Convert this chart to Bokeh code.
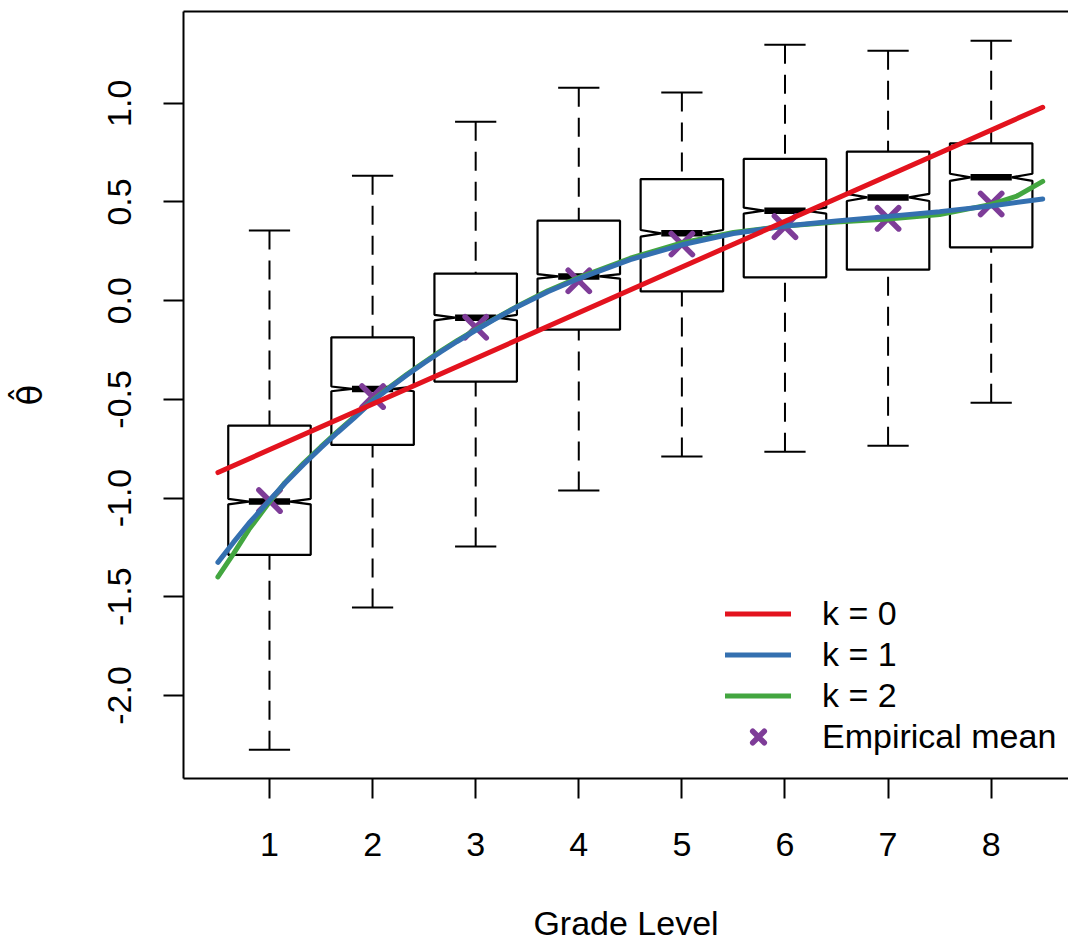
from bokeh.plotting import figure
from bokeh.models import (Range1d, FixedTicker, NumeralTickFormatter, LinearAxis,
                          Legend, LegendItem)
from bokeh.embed import file_html
from bokeh.resources import INLINE

# ---------------- data ----------------
grades = [1, 2, 3, 4, 5, 6, 7, 8]
upper_whisker = [0.355, 0.633, 0.907, 1.079, 1.054, 1.297, 1.266, 1.317]
q3 = [-0.633, -0.186, 0.137, 0.405, 0.616, 0.718, 0.755, 0.797]
median = [-1.018, -0.447, -0.086, 0.123, 0.341, 0.456, 0.523, 0.625]
q1 = [-1.288, -0.731, -0.410, -0.147, 0.047, 0.118, 0.157, 0.270]
lower_whisker = [-2.275, -1.555, -1.246, -0.962, -0.790, -0.765, -0.735, -0.517]
notch_half = [0.014, 0.012, 0.014, 0.011, 0.017, 0.015, 0.018, 0.018]
empirical_mean = [-1.013, -0.486, -0.135, 0.101, 0.287, 0.375, 0.417, 0.490]

k0_x = [0.5, 8.5]
k0_y = [-0.871, 0.980]

k1_x = [0.5, 0.65, 0.8, 1.0, 1.15, 1.33, 1.5, 1.66, 1.82, 2.0, 2.17, 2.33, 2.5, 2.66,
        2.82, 3.0, 3.17, 3.4, 3.7, 4.0, 4.5, 5.0, 5.5, 6.0, 6.5, 7.0, 7.5, 8.0, 8.5]
k1_y = [-1.326, -1.225, -1.128, -1.012, -0.925, -0.830, -0.745, -0.668, -0.595, -0.508,
        -0.440, -0.378, -0.316, -0.260, -0.207, -0.150, -0.098, -0.032, 0.045, 0.112,
        0.208, 0.283, 0.340, 0.378, 0.404, 0.427, 0.451, 0.480, 0.515]

k2_x = [0.5, 0.65, 0.8, 1.0, 1.15, 1.33, 1.5, 1.66, 1.82, 2.0, 2.17, 2.33, 2.5, 2.66,
        2.82, 3.0, 3.17, 3.4, 3.7, 4.0, 4.5, 5.0, 5.5, 6.0, 6.5, 7.0, 7.5, 8.0, 8.25, 8.5]
k2_y = [-1.400, -1.283, -1.160, -1.020, -0.922, -0.824, -0.740, -0.663, -0.590, -0.505,
        -0.436, -0.374, -0.312, -0.256, -0.203, -0.147, -0.096, -0.030, 0.050, 0.117,
        0.215, 0.292, 0.345, 0.378, 0.398, 0.414, 0.436, 0.488, 0.530, 0.604]

y_ticks = [-2.0, -1.5, -1.0, -0.5, 0.0, 0.5, 1.0]
legend_labels = ["k = 0", "k = 1", "k = 2", "Empirical mean"]

# ---------------- styles ----------------
FONT = "Liberation Sans"
FS = "34px"
RED, BLUE, GREEN, PURPLE = "#E3131E", "#3470B0", "#43A640", "#7E3C98"
BOX_HW, NOTCH_HW, STAPLE_HW = 0.4, 0.2, 0.2

p = figure(width=1068, height=944, output_backend="svg", toolbar_location=None,
           x_range=Range1d(0.166, 8.75), y_range=Range1d(-2.421, 1.465),
           min_border_left=183, min_border_right=0, min_border_top=11, min_border_bottom=166,
           x_axis_label="Grade Level", y_axis_label="\u03b8\u0302")
p.grid.visible = False
p.outline_line_color = None
p.background_fill_color = "white"
p.border_fill_color = "white"

for ax in (p.xaxis[0], p.yaxis[0]):
    ax.axis_line_color = "black"
    ax.axis_line_width = 2
    ax.major_tick_line_color = "black"
    ax.major_tick_line_width = 2
    ax.major_tick_out = 20
    ax.major_tick_in = 0
    ax.minor_tick_out = 0
    ax.minor_tick_in = 0
    ax.major_label_text_font = FONT
    ax.major_label_text_font_size = FS
    ax.major_label_text_color = "black"
    ax.axis_label_text_font = FONT
    ax.axis_label_text_font_size = FS
    ax.axis_label_text_font_style = "normal"
    ax.axis_label_text_color = "black"

p.xaxis.ticker = FixedTicker(ticks=grades)
p.xaxis.major_label_standoff = 34
p.xaxis.axis_label_standoff = 45
p.yaxis.ticker = FixedTicker(ticks=y_ticks)
p.yaxis.formatter = NumeralTickFormatter(format="0.0")
p.yaxis.major_label_orientation = "vertical"
p.yaxis.major_label_standoff = 32
p.yaxis.axis_label_standoff = 56
p.yaxis.axis_label_text_font = "DejaVu Sans"

top_axis = LinearAxis(ticker=FixedTicker(ticks=[]), axis_line_width=2, axis_line_color="black",
                      major_tick_out=0, major_tick_in=0, minor_tick_out=0, minor_tick_in=0,
                      major_label_standoff=0, major_label_text_font_size="0px")
p.add_layout(top_axis, "above")

# ---------------- notched boxes ----------------
box_xs, box_ys = [], []
for g, lo, md, hi, n in zip(grades, q1, median, q3, notch_half):
    box_xs.append([g - BOX_HW, g - BOX_HW, g - NOTCH_HW, g - BOX_HW, g - BOX_HW,
                   g + BOX_HW, g + BOX_HW, g + NOTCH_HW, g + BOX_HW, g + BOX_HW])
    box_ys.append([lo, md - n, md, md + n, hi, hi, md + n, md, md - n, lo])
p.patches(box_xs, box_ys, fill_color=None, line_color="black", line_width=2.2)

# whiskers (dashed) from whisker ends to box edges
p.segment(x0=grades, y0=upper_whisker, x1=grades, y1=q3, line_color="black",
          line_width=2, line_dash="19 11")
p.segment(x0=grades, y0=lower_whisker, x1=grades, y1=q1, line_color="black",
          line_width=2, line_dash="19 11")
# staples
p.segment(x0=[g - STAPLE_HW for g in grades], y0=upper_whisker,
          x1=[g + STAPLE_HW for g in grades], y1=upper_whisker, line_color="black", line_width=2)
p.segment(x0=[g - STAPLE_HW for g in grades], y0=lower_whisker,
          x1=[g + STAPLE_HW for g in grades], y1=lower_whisker, line_color="black", line_width=2)
# medians
p.segment(x0=[g - NOTCH_HW for g in grades], y0=median,
          x1=[g + NOTCH_HW for g in grades], y1=median, line_color="black", line_width=6.5)

# empirical means
r_mean = p.scatter(grades, empirical_mean, marker="x", size=30, line_color=PURPLE,
                   line_width=5.5, line_cap="round")

# fitted curves
r2 = p.line(k2_x, k2_y, line_color=GREEN, line_width=5, line_cap="round")
r1 = p.line(k1_x, k1_y, line_color=BLUE, line_width=5, line_cap="round")
r0 = p.line(k0_x, k0_y, line_color=RED, line_width=5, line_cap="round")

legend = Legend(items=[LegendItem(label=legend_labels[0], renderers=[r0]),
                       LegendItem(label=legend_labels[1], renderers=[r1]),
                       LegendItem(label=legend_labels[2], renderers=[r2]),
                       LegendItem(label=legend_labels[3], renderers=[r_mean])],
                location=(542, 21), padding=0, margin=0, spacing=0,
                glyph_width=66, glyph_height=41, label_height=41, label_standoff=31,
                label_text_font=FONT, label_text_font_size=FS, label_text_color="black",
                border_line_color=None, background_fill_alpha=0)
p.add_layout(legend)

open("out.html", "w").write(file_html(p, INLINE))
